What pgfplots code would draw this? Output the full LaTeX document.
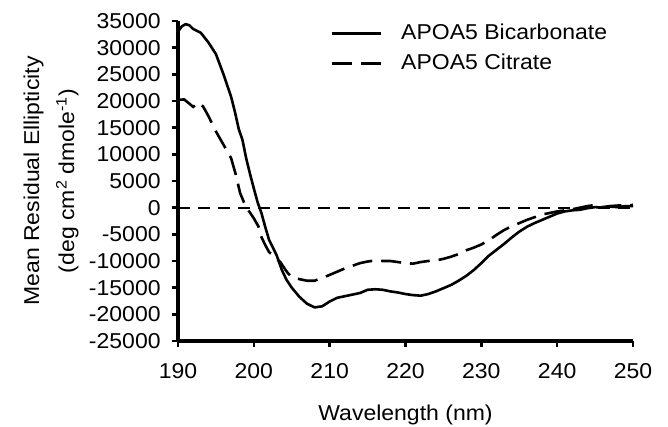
\documentclass[border=0pt]{standalone}
\usepackage{pgfplots}
\pgfplotsset{compat=1.18}
\usepackage{fontspec}
\setmainfont[FakeStretch=1.07]{Liberation Sans}
\usetikzlibrary{calc}

\begin{document}
\fontsize{21.5}{25}\selectfont
\begin{tikzpicture}
\begin{axis}[
  scale only axis,
  width=455pt, height=320pt,
  xmin=190, xmax=250, ymin=-25000, ymax=35000,
  xtick={190,200,...,250},
  ytick={-25000,-20000,...,35000},
  axis x line*=bottom, axis y line*=left,
  axis line style={line width=3.2pt},
  tick align=outside,
  major tick length=6pt,
  tick style={line width=2.4pt, black},
  /pgf/number format/assume math mode=true,
  /pgf/number format/1000 sep={},
  scaled y ticks=false,
  ticklabel style={font=\fontsize{21.5}{25}\selectfont},
  yticklabel style={xshift=-4pt},
  xticklabel style={yshift=-9pt},
  xlabel={Wavelength (nm)},
  xlabel style={at={(axis description cs:0.5,-0.198)}, anchor=north, inner sep=0pt},
  ylabel={Mean Residual Ellipticity\\[10pt](deg cm\textsuperscript{2} dmole\textsuperscript{-1})},
  ylabel style={align=center, at={(axis description cs:-0.218,0.5)}, anchor=south, inner sep=0pt},
  legend image code/.code={\draw[#1] (0pt,0pt) -- (49pt,0pt);},
  legend cell align=left,
  legend style={draw=none, fill=none, at={(axis description cs:0.335,1.0)}, anchor=north west,
    font=\fontsize{21.5}{25}\selectfont, row sep=5pt, column sep=16pt, inner sep=0pt,
    nodes={inner sep=3pt}},
]
\addplot[black, line width=2.6pt] coordinates {
 (190,33000) (190.5,34000) (191,34400) (191.5,34200) (192,33500) (193,32800)
 (194,31000) (195,28800) (196,25000) (197,20800) (197.5,18000) (198,14800)
 (198.5,12700) (199,9200) (199.5,6300) (200,3600) (200.5,1000) (201,-1000)
 (201.5,-3600) (202,-6000) (203,-8900) (203.7,-11700) (204.3,-13500) (205,-15000)
 (206,-16700) (207,-18000) (208,-18700) (209,-18500) (210,-17600) (211,-16900)
 (212,-16600) (213,-16300) (214,-16000) (215,-15400) (216,-15300) (217,-15400)
 (218,-15700) (219,-15900) (220,-16200) (221,-16400) (222,-16500) (223,-16200)
 (224,-15700) (225,-15100) (226,-14500) (227,-13700) (228,-12800) (229,-11700)
 (230,-10400) (231,-9000) (232,-7900) (233,-6800) (234,-5600) (235,-4500)
 (236,-3600) (237,-2900) (238,-2300) (239,-1700) (240,-1100) (241,-700)
 (242,-500) (243,-400) (244,-100) (245,100) (246,0) (247,200) (248,100)
 (249,300) (250,300)
};
\addlegendentry{APOA5 Bicarbonate}
\addplot[black, line width=2.6pt, dash pattern=on 20pt off 9pt] coordinates {
 (190,20200) (190.8,20300) (191.5,19500) (192,18900) (192.7,19700) (193.3,19000)
 (194,17200) (195,14300) (196,11800) (197,9300) (197.6,6300) (198.2,2700)
 (198.7,1000) (199.1,-100) (200,-2000) (200.6,-3500) (201,-5500) (201.5,-7000)
 (202,-8300) (203,-9600) (203.5,-10200) (204,-11300) (204.5,-12300) (205,-13000)
 (206,-13400) (207,-13700) (208,-13700) (209,-13200) (210,-12600) (211,-12000)
 (212,-11400) (213,-10900) (214,-10400) (215,-10100) (216,-9900) (217,-10000)
 (218,-10000) (219,-10200) (220,-10400) (221,-10500) (222,-10200) (223,-10000)
 (224,-9900) (225,-9600) (226,-9200) (227,-8700) (228,-8000) (229,-7500)
 (230,-6900) (231,-6100) (232,-5100) (233,-4200) (234,-3500) (235,-2900)
 (236,-2300) (237,-1800) (238,-1300) (239,-1000) (240,-700) (241,-500)
 (242,-300) (243,0) (244,300) (245,500) (246,100) (247,300) (248,400)
 (249,400) (250,500)
};
\addlegendentry{APOA5 Citrate}
\addplot[black, line width=1.8pt, dash pattern=on 12pt off 8pt, forget plot] coordinates {(190,0) (250,0)};
\end{axis}
\path ($(current axis.south west)+(-178pt,-86pt)$) rectangle ($(current axis.north east)+(35pt,21pt)$);
\end{tikzpicture}
\end{document}
